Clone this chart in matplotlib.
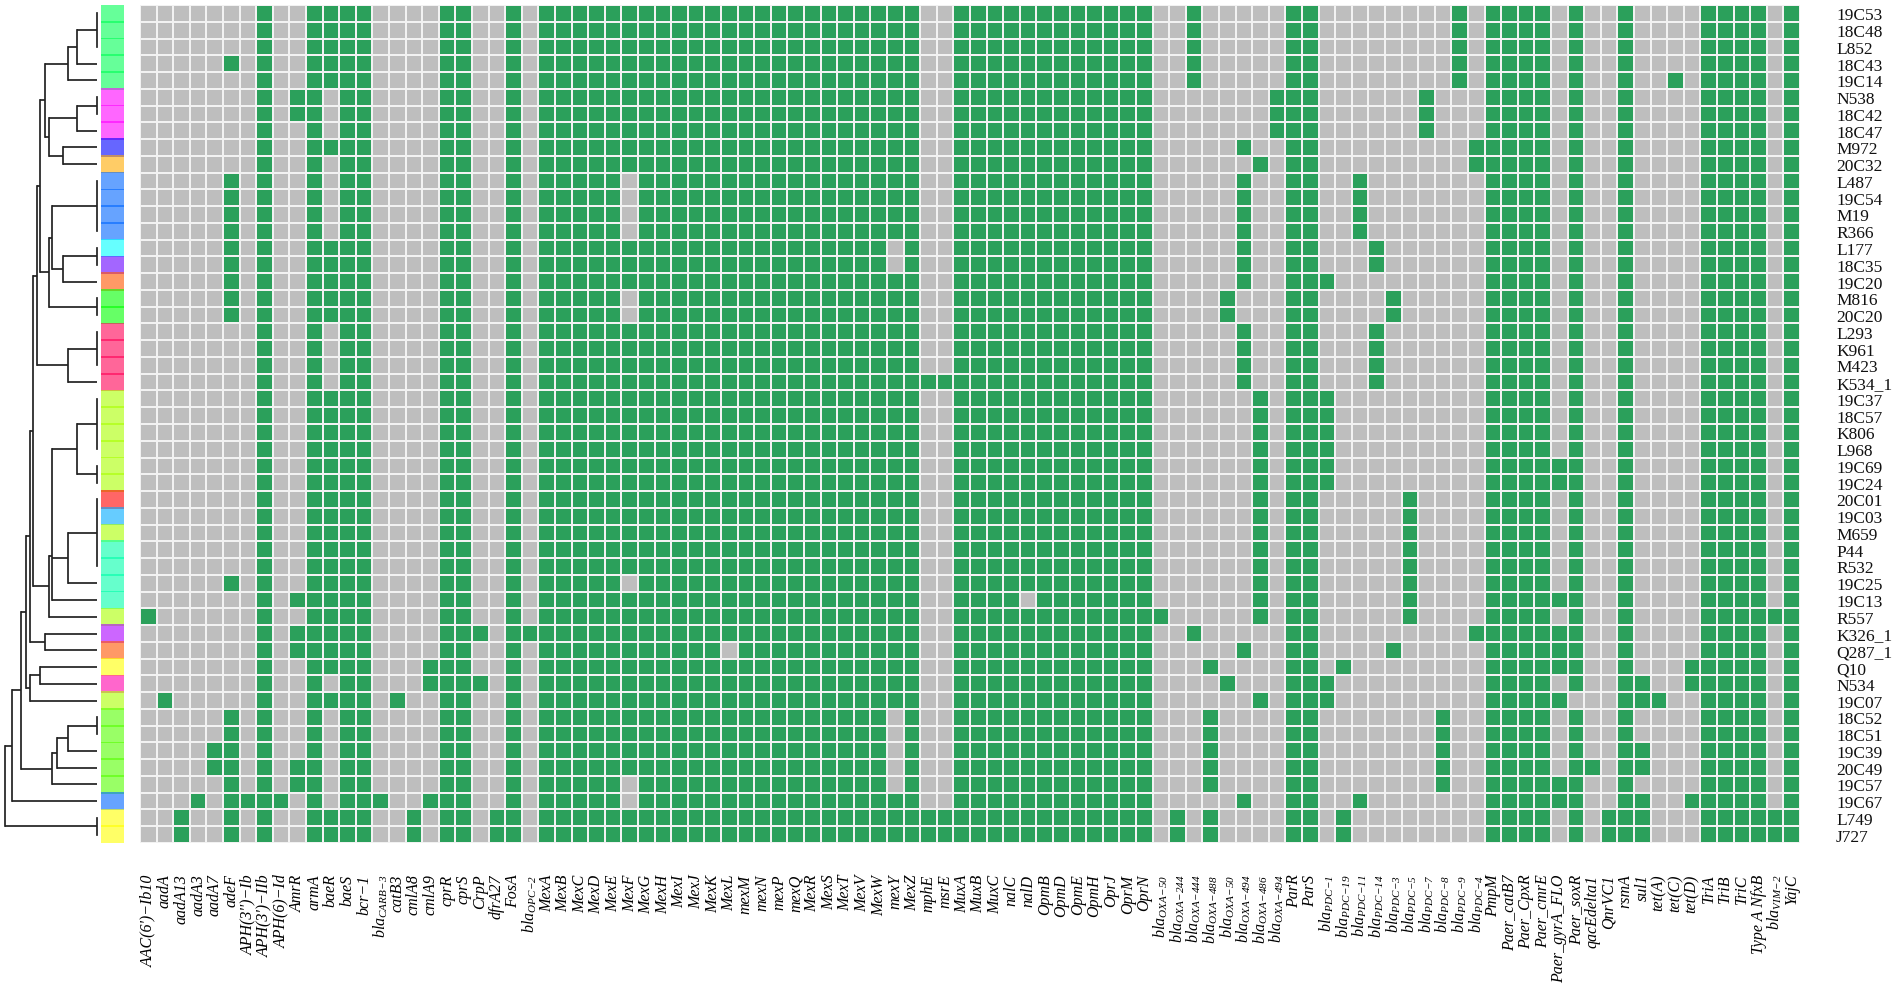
import numpy as np
import matplotlib
matplotlib.use("Agg")
import matplotlib.pyplot as plt
from matplotlib.colors import ListedColormap

plt.rcParams['font.family'] = ['Liberation Serif', 'DejaVu Sans']
plt.rcParams['mathtext.fontset'] = 'custom'
plt.rcParams['mathtext.it'] = 'Liberation Serif:italic'
plt.rcParams['mathtext.rm'] = 'Liberation Serif:italic'
plt.rcParams['mathtext.default'] = 'it'


def bla(s):
    return r'$bla_{\mathrm{' + s.replace('-', r'\!-\!') + '}}$'


strains = ['19C53', '18C48', 'L852', '18C43', '19C14', 'N538', '18C42', '18C47', 'M972', '20C32',
           'L487', '19C54', 'M19', 'R366', 'L177', '18C35', '19C20', 'M816', '20C20', 'L293',
           'K961', 'M423', 'K534_1', '19C37', '18C57', 'K806', 'L968', '19C69', '19C24', '20C01',
           '19C03', 'M659', 'P44', 'R532', '19C25', '19C13', 'R557', 'K326_1', 'Q287_1', 'Q10',
           'N534', '19C07', '18C52', '18C51', '19C39', '20C49', '19C57', '19C67', 'L749', 'J727']

genes = ["AAC(6')−Ib10", 'aadA', 'aadA13', 'aadA3', 'aadA7', 'adeF', "APH(3'')−Ib", "APH(3')−IIb",
         'APH(6)−Id', 'AmrR', 'armA', 'baeR', 'baeS', 'bcr−1', bla('CARB-3'), 'catB3', 'cmlA8', 'cmlA9',
         'cprR', 'cprS', 'CrpP', 'dfrA27', 'FosA', bla('OPC-2'), 'MexA', 'MexB', 'MexC', 'MexD',
         'MexE', 'MexF', 'MexG', 'MexH', 'MexI', 'MexJ', 'MexK', 'MexL', 'mexM', 'mexN',
         'mexP', 'mexQ', 'MexR', 'MexS', 'MexT', 'MexV', 'MexW', 'mexY', 'MexZ', 'mphE',
         'msrE', 'MuxA', 'MuxB', 'MuxC', 'nalC', 'nalD', 'OpmB', 'OpmD', 'OpmE', 'OpmH',
         'OprJ', 'OprM', 'OprN', bla('OXA-50'), bla('OXA-244'), bla('OXA-444'), bla('OXA-488'), bla('OXA-50'),
         bla('OXA-494'), bla('OXA-486'), bla('OXA-494'), 'ParR', 'ParS', bla('PDC-1'), bla('PDC-19'), bla('PDC-11'),
         bla('PDC-14'), bla('PDC-3'), bla('PDC-5'), bla('PDC-7'), bla('PDC-8'), bla('PDC-9'), bla('PDC-4'), 'PmpM',
         'Paer_catB7', 'Paer_CpxR', 'Paer_cmrE', 'Paer_gyrA_FLO', 'Paer_soxR', 'qacEdelta1', 'QnrVC1', 'rsmA',
         'sul1', 'tet(A)', 'tet(C)', 'tet(D)', 'TriA', 'TriB', 'TriC', 'Type A NfxB', bla('VIM-2'), 'YajC']

# genes found in nearly every strain, and the strains (row numbers) without them
full_genes = [7, 10, 11, 12, 13, 18, 19, 22] + list(range(24, 47)) + list(range(49, 61)) \
    + [69, 70, 81, 82, 83, 84, 86, 89, 94, 95, 96, 97, 99]
missing = {
    11: [5, 6, 7, 9, 10, 11, 12, 13, 19, 20, 21, 22, 40, 42, 43, 44, 45, 46, 47],
    29: [10, 11, 12, 13, 17, 18, 34, 46, 47],
    35: [38],
    45: [14, 15, 42, 43, 44, 45, 46],
    53: [35],
    86: [41],
}

# genes found in only a few strains
hits = {
    0: [36], 1: [41], 2: [48, 49], 3: [47], 4: [44, 45],
    5: [3, 10, 11, 12, 13, 14, 15, 16, 17, 18, 34, 42, 43, 44, 45, 46, 47, 48, 49],
    6: [47], 8: [47], 9: [5, 6, 35, 37, 38, 45, 46],
    14: [47], 15: [41], 16: [48, 49], 17: [39, 40, 47],
    20: [37, 40], 21: [48, 49], 23: [37],
    47: [22, 48, 49], 48: [22, 48, 49],
    61: [36], 62: [48, 49], 63: [0, 1, 2, 3, 4, 37],
    64: [39, 42, 43, 44, 45, 46, 48, 49],
    65: [17, 18, 40],
    66: [8, 10, 11, 12, 13, 14, 15, 16, 19, 20, 21, 22, 38, 47],
    67: [9, 23, 24, 25, 26, 27, 28, 29, 30, 31, 32, 33, 34, 35, 36, 41],
    68: [5, 6, 7],
    71: [16, 23, 24, 25, 26, 27, 28, 40, 41],
    72: [39, 48, 49], 73: [10, 11, 12, 13, 47],
    74: [14, 15, 19, 20, 21, 22], 75: [17, 18, 38],
    76: [29, 30, 31, 32, 33, 34, 35, 36], 77: [5, 6, 7],
    78: [42, 43, 44, 45, 46], 79: [0, 1, 2, 3, 4], 80: [8, 9, 37],
    85: [27, 28, 35, 37, 38, 39, 41, 46, 47],
    87: [45], 88: [48, 49],
    90: [40, 41, 44, 45, 47, 48, 49], 91: [41], 92: [4],
    93: [39, 40, 47], 98: [36, 48, 49],
}

strip_colors = ['#00FF55'] * 5 + ['#FF00FF'] * 3 + ['#0000FF', '#FFAA00'] + ['#0066FF'] * 4 \
    + ['#00FFFF', '#6600FF', '#FF5500'] + ['#00FF00'] * 2 + ['#FF0055'] * 4 + ['#AAFF00'] * 6 \
    + ['#FF0000', '#00AAFF', '#AAFF00'] + ['#00FFAA'] * 4 + ['#AAFF00', '#AA00FF', '#FF5500', '#FFFF00', '#FF00AA', '#AAFF00'] \
    + ['#55FF00'] * 5 + ['#0066FF'] + ['#FFFF00'] * 2

# dendrogram: (height, children) or (height, children, stem row); a plain int is a strain
LEAF_H = 97
top_clade = (45, [(68.3, [(76.7, [(LEAF_H, [0, 1, 2]), 3]), 4]),
                  (48.7, [(76.7, [(LEAF_H, [5, 6]), 7]), (63.3, [8, 9])])])
mid_clade = (48.7, [(51.7, [(LEAF_H, [10, 11, 12, 13]), (63.3, [(LEAF_H, [14, 15]), 16])]),
                    (LEAF_H, [17, 18])])
low_clade = (49, [(52.2, [(76.7, [(LEAF_H, [23, 24, 25, 26]), (LEAF_H, [27, 28])]),
                          (68.3, [(LEAF_H, [29, 30, 31, 32, 33]), 34]), 35], 32.86), 36])
upper = (33.3, [(36.7, [(40, [top_clade, mid_clade]), (68.3, [(LEAF_H, [19, 20, 21]), 22])]), low_clade])
left = (25.7, [(30, [upper, (45.3, [37, 38])]), (30.3, [(40.3, [39, 40]), 41])])
right = (51.7, [(57, [(68.3, [(LEAF_H, [42, 43]), 44]), 45]), 46])
tree = (5.3, [(12.3, [(20.7, [left, right]), 47]), (LEAF_H, [48, 49])])

matrix = np.zeros((len(strains), len(genes)))
for g in full_genes:
    matrix[:, g] = 1
for g, rows in missing.items():
    matrix[rows, g] = 0
for g, rows in hits.items():
    matrix[rows, g] = 1

W, H = 1901, 987
fig = plt.figure(figsize=(W / 100, H / 100), dpi=100)


def box(x0, x1, y0, y1):
    return [x0 / W, 1 - y1 / H, (x1 - x0) / W, (y1 - y0) / H]


ax = fig.add_axes(box(140, 1800, 6, 844))
ax.pcolormesh(np.arange(len(genes) + 1), np.arange(len(strains) + 1), matrix,
              cmap=ListedColormap(['#BEBEBE', '#2BA05B']), vmin=0, vmax=1,
              edgecolors='#F2F2F2', linewidth=1.3)
ax.set_xlim(0, len(genes))
ax.set_ylim(len(strains), 0)
for s in ax.spines.values():
    s.set_visible(False)
ax.set_xticks(np.arange(len(genes)) + 0.5, genes, rotation=90, style='italic', fontsize=11.5)
ax.set_yticks(np.arange(len(strains)) + 0.5, strains, fontsize=12.5)
ax.yaxis.tick_right()
ax.tick_params(axis='x', length=0, pad=22)
ax.tick_params(axis='y', length=0, pad=26, labelcolor='#111111')

# colour strip
ax_strip = fig.add_axes(box(101, 124, 6, 844))
ax_strip.barh(np.arange(len(strains)) + 0.5, 1, height=1.1, color=strip_colors, alpha=0.6, linewidth=0)
ax_strip.set_xlim(0, 1)
ax_strip.set_ylim(len(strains), 0)
ax_strip.axis('off')

# dendrogram
ax_tree = fig.add_axes(box(0, 100, 6, 844))
ax_tree.set_xlim(0, 100)
ax_tree.set_ylim(len(strains), 0)
ax_tree.axis('off')


def draw(node, parent_h=None):
    if isinstance(node, int):
        y, h = node + 0.5, LEAF_H
    else:
        h = node[0]
        ys = [draw(c, h) for c in node[1]]
        ax_tree.plot([h, h], [min(ys), max(ys)], color='#222222', lw=1.25, solid_capstyle='projecting')
        y = node[2] if len(node) > 2 else (min(ys) + max(ys)) / 2
    if parent_h is not None and h > parent_h:
        ax_tree.plot([parent_h, h], [y, y], color='#222222', lw=1.25, solid_capstyle='butt')
    return y


draw(tree)

fig.savefig('out.png', dpi=100)
